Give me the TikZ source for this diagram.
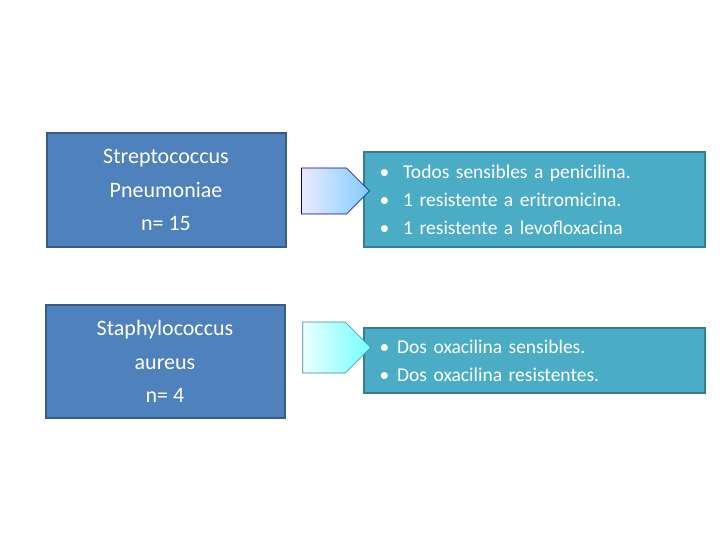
\documentclass[tikz,border=0pt]{standalone}
\usepackage{fontspec}
\setmainfont{Carlito}
\usetikzlibrary{shapes.arrows,positioning}
\definecolor{leftfill}{HTML}{4F81BD}
\definecolor{leftline}{HTML}{385D8A}
\definecolor{rightfill}{HTML}{4BACC6}
\definecolor{rightline}{HTML}{357D91}
\begin{document}
\begin{tikzpicture}[x=1pt,y=-1pt,
	bacteria/.style={draw=leftline,line width=2pt,fill=leftfill,text=white,align=center,
		font=\fontsize{22}{33.5}\selectfont,minimum width=239pt,minimum height=113pt,inner sep=0pt},
	result/.style={draw=rightline,line width=2pt,fill=rightfill,text=white,align=left,
		font=\fontsize{19.5}{28}\selectfont,minimum width=341pt,inner sep=0pt,text width=310pt},
	blockarrow/.style={single arrow,draw=#1!60!black,line width=0.6pt,minimum height=68pt,
		minimum width=46pt,single arrow head extend=0pt,inner sep=0pt,single arrow tip angle=90}
	]
	\useasboundingbox (0,0) rectangle (720,540);
	\node[bacteria] (strep) at (166,190) {Streptococcus\\Pneumoniae\\n= 15};
	\node[bacteria] (staph) at (165,361.5) {Staphylococcus\\aureus\\n= 4};
	\node[result,minimum height=95pt] (res1) at (534.5,199.5)
		{\textbullet\hspace{14pt}Todos sensibles a penicilina.\\
		 \textbullet\hspace{14pt}1 resistente a eritromicina.\\
		 \textbullet\hspace{14pt}1 resistente a levofloxacina};
	\node[result,minimum height=65pt] (res2) at (534.5,360.5)
		{\textbullet\hspace{8pt}Dos oxacilina sensibles.\\
		 \textbullet\hspace{8pt}Dos oxacilina resistentes.};
	\node[blockarrow=blue,left color=blue!8,right color=blue!40!cyan!50] (arr1) at (324,191) {};
	\node[blockarrow=cyan,minimum width=51pt,left color=cyan!8,right color=cyan!55] (arr2) at (324,347.5) {};
\end{tikzpicture}
\end{document}
